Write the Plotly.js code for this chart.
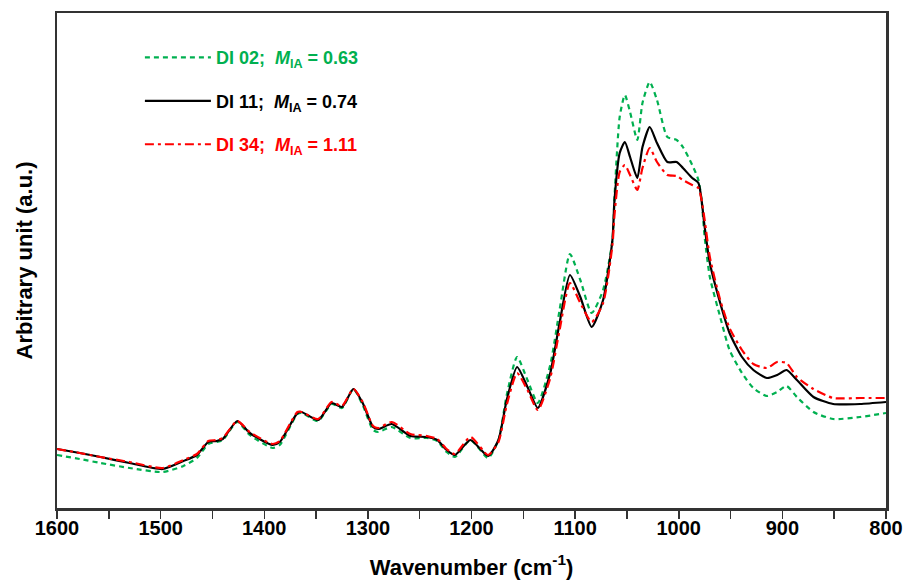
<!DOCTYPE html>
<html>
<head>
<meta charset="utf-8">
<script src="https://cdn.plot.ly/plotly-3.0.1.min.js"></script>
<style>html,body{margin:0;padding:0;background:#fff;}#chart{width:917px;height:584px;}</style>
</head>
<body>
<div id="chart"></div>
<script>
// Wavenumber grid (cm-1)
const wavenumber = [1600,1578,1558,1530,1498,1478,1465,1454,1446,1440,
  1426,1414,1392,1385,1368,1364,1348,1335,1325,1314,
  1305,1295,1290,1277,1259,1243,1233,1224,1216,1201,
  1184,1174,1166,1156,1146,1136,1124,1115,1105,1095,
  1084,1073,1064,1062,1057,1052,1047,1040,1035,1028,
  1021,1011,1002,996,987,981,978,975,970,960,
  951,939,928,915,905,896,886,870,851,825,
  800];

// DI 02 (green, dashed)
const di02 = [53,49,45,40,36,42,50,64,66,68,
  86,73,60,63,94,95,87,104,100,119,
  103,78,76,81,70,70,67,56,51,68,
  50,68,113,151,128,105,143,198,254,228,
  195,218,268,311,391,413,396,368,405,426,
  408,371,368,361,343,328,308,271,231,191,
  158,135,120,112,116,122,111,96,89,91,
  95];

// DI 11 (black, solid)
const di11 = [59,55,51,45,39,47,53,66,67,69,
  87,75,63,66,95,96,88,105,101,119,
  105,81,79,84,72,71,68,58,53,68,
  52,68,108,141,121,100,135,185,233,211,
  181,208,268,308,355,366,351,330,361,381,
  365,346,346,340,330,325,308,281,245,205,
  175,151,138,130,133,138,128,111,104,104,
  106];

// DI 34 (red, dash-dot)
const di34 = [59,55,51,46,40,48,54,67,68,70,
  87,76,64,67,96,96,89,106,102,119,
  106,82,80,86,74,72,69,59,54,71,
  53,66,103,135,118,98,130,178,225,205,
  186,205,263,293,336,343,333,318,340,360,
  346,333,332,328,323,320,308,288,251,208,
  180,158,144,140,146,145,131,119,110,110,
  110];

const seriesNames = [
  '<span style="color:#00B050"><b>DI 02;  <i>M</i><sub>IA</sub> = 0.63</b></span>',
  '<span style="color:#000000"><b>DI 11;  <i>M</i><sub>IA</sub> = 0.74</b></span>',
  '<span style="color:#FF0000"><b>DI 34;  <i>M</i><sub>IA</sub> = 1.11</b></span>'
];

const tickVals = [1600,1500,1400,1300,1200,1100,1000,900,800];
const tickText = ['1600','1500','1400','1300','1200','1100','1000','900','800'];

const traces = [
  {x: wavenumber, y: di02, name: seriesNames[0], legendgroup: 'a', type: 'scatter', mode: 'lines',
   line: {color: '#00B050', width: 2.2, dash: '5px,4px', shape: 'spline', smoothing: 0.6}},
  {x: wavenumber, y: di11, name: seriesNames[1], legendgroup: 'b', type: 'scatter', mode: 'lines',
   line: {color: '#000000', width: 2.2, shape: 'spline', smoothing: 0.6}},
  {x: wavenumber, y: di34, name: seriesNames[2], legendgroup: 'c', type: 'scatter', mode: 'lines',
   line: {color: '#FF0000', width: 2.2, dash: '9px,4px,3px,4px', shape: 'spline', smoothing: 0.6}}
];

const layout = {
  width: 917, height: 584,
  margin: {l: 57, r: 31, t: 13, b: 76},
  paper_bgcolor: '#ffffff', plot_bgcolor: '#ffffff',
  showlegend: true,
  legend: {
    x: 0.1, y: 0.947, xanchor: 'left', yanchor: 'top',
    bgcolor: 'rgba(0,0,0,0)', borderwidth: 0,
    font: {family: 'Liberation Sans, Arial, sans-serif', size: 18, color: '#000'},
    itemwidth: 66, traceorder: 'grouped', tracegroupgap: 17
  },
  xaxis: {
    range: [1600, 800], autorange: false,
    tickvals: tickVals, ticktext: tickText,
    ticks: '',
    minor: {dtick: 50, tick0: 800, ticks: 'outside', ticklen: 8, tickwidth: 1.5, tickcolor: '#333', showgrid: false},
    showgrid: false, zeroline: false,
    showline: true, mirror: true, linecolor: '#333', linewidth: 2.5,
    tickfont: {family: 'Liberation Sans, Arial, sans-serif', size: 20, color: '#000', weight: 'bold'},
    title: {text: '<b>Wavenumber (cm<sup>-1</sup>)</b>', standoff: 22,
            font: {family: 'Liberation Sans, Arial, sans-serif', size: 22, color: '#000'}}
  },
  yaxis: {
    range: [0, 495], autorange: false,
    showticklabels: false, ticks: '',
    showgrid: false, zeroline: false,
    showline: true, mirror: true, linecolor: '#333', linewidth: 2.5,
    title: {text: '<b>Arbitrary unit (a.u.)</b>', standoff: 16,
            font: {family: 'Liberation Sans, Arial, sans-serif', size: 22, color: '#000'}}
  }
};

Plotly.newPlot('chart', traces, layout, {displayModeBar: false, staticPlot: true});
</script>
</body>
</html>
